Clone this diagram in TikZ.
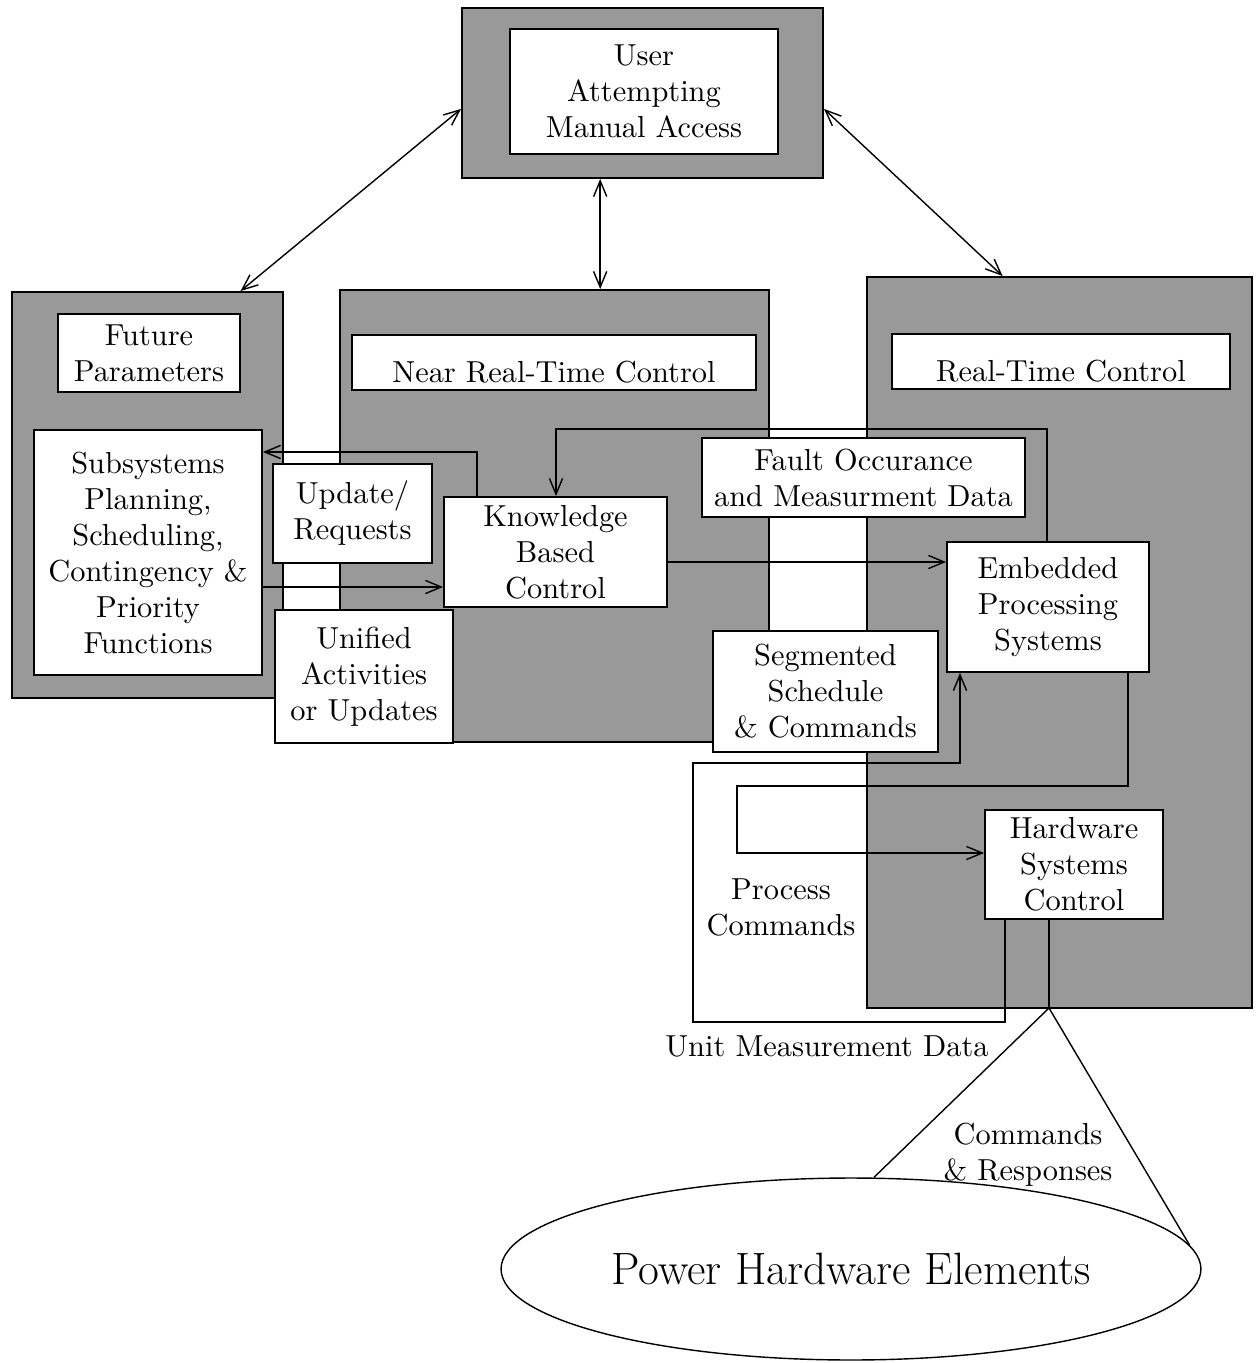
\documentclass[tikz,border=0pt]{standalone}
\usepackage{fontspec}
\setmainfont{lmroman10-regular}[Extension=.otf]
\newfontfamily\titlefam{lmroman17-regular}[Extension=.otf]
\usetikzlibrary{arrows.meta,shapes.geometric,calc}
\newcommand\boxfont{\fontsize{17.3}{20.5}\selectfont}
\newcommand\bigfont{\titlefam\fontsize{25.8}{30}\selectfont}
\begin{document}
\begin{tikzpicture}[x=0.02cm,y=-0.02cm,
  corners/.style n args={4}{at={({(#1+#3)/2},{(#2+#4)/2})},
    minimum width={(#3-#1)*0.02cm}, minimum height={(#4-#2)*0.02cm}},
  panel/.style={draw, line width=1.1pt, fill=black!40, inner sep=0pt},
  wbox/.style={draw, line width=1.1pt, fill=white, inner sep=0pt, align=center, font=\boxfont},
  lowtext/.style={text height=23pt, text depth=0pt},
  txt/.style={align=center, font=\boxfont},
  link/.style={line width=0.8pt},
  arr/.style={link, -{Straight Barb[length=9pt,width=7.5pt]}},
  dbl/.style={link, {Straight Barb[length=9pt,width=7.5pt]}-{Straight Barb[length=9pt,width=7.5pt]}},
]
\useasboundingbox (0,0) rectangle (1257,1363);

% shaded panels
\node[panel, corners={462}{8}{823}{178}] (userpanel) {};
\node[panel, corners={12}{292}{283}{698}] (futpanel) {};
\node[panel, corners={340}{290}{769}{742}] (nrtpanel) {};
\node[panel, corners={867}{277}{1252}{1008}] (rtpanel) {};

% labelled boxes
\node[wbox, corners={510}{29}{778}{154}] (user) {User\\Attempting\\Manual Access};
\node[wbox, corners={58}{314}{240}{392}] (futlabel) {Future\\Parameters};
\node[wbox, corners={34}{430}{262}{675}] (sub) {Subsystems\\Planning,\\Scheduling,\\Contingency \&\\Priority\\Functions};
\node[wbox, lowtext, corners={352}{335}{756}{390}] (nrtlabel) {Near Real-Time Control};
\node[wbox, lowtext, corners={892}{334}{1230}{389}] (rtlabel) {Real-Time Control};
\node[wbox, corners={273}{464}{432}{563}] (upd) {Update/\\Requests};
\node[wbox, corners={444}{497}{667}{607}] (kbc) {Knowledge\\Based\\Control};
\node[wbox, corners={275}{610}{453}{743}] (uni) {Unified\\Activities\\or Updates};
\node[wbox, corners={702}{438}{1025}{517}] (fault) {Fault Occurance\\and Measurment Data};
\node[wbox, corners={947}{542}{1149}{672}] (emb) {Embedded\\Processing\\Systems};
\node[wbox, corners={713}{631}{938}{752}] (seg) {Segmented\\Schedule\\\& Commands};
\node[wbox, corners={985}{810}{1163}{919}] (hw) {Hardware\\Systems\\Control};

% free labels
\node[txt] (pc) at (781,907) {Process\\Commands};
\node[txt] (umd) at (827,1046) {Unit Measurement Data};
\node[txt] (cr) at (1028,1155) {Commands\\\& Responses};
\node[draw, ellipse, line width=0.8pt, minimum width=14cm, minimum height=3.64cm,
      inner sep=0pt, font=\bigfont] (phe) at (851,1269) {Power Hardware Elements};

% links from the user
\coordinate (uf) at ($(futpanel.north west)!0.841!(futpanel.north east)$);
\coordinate (un) at ($(nrtpanel.north west)!0.606!(nrtpanel.north east)$);
\coordinate (ur) at ($(rtpanel.north west)!0.353!(rtpanel.north east)$);
\draw[dbl] (userpanel.185) -- (uf);
\draw[dbl] (userpanel.south -| un) -- (un);
\draw[dbl] (userpanel.355) -- (ur);

% planning <-> knowledge based control
\coordinate (c1) at (477,452);
\draw[arr] (c1 |- kbc.north) -- (c1) -- (c1 -| sub.east);
\coordinate (c2) at (300,587);
\draw[arr] (c2 -| sub.east) -- (c2 -| kbc.west);

% knowledge based control <-> embedded processing
\coordinate (c3a) at (1047,429);
\coordinate (c3b) at (556,429);
\draw[arr] (c3a |- emb.north) -- (c3a) -- (c3b) -- (c3b |- kbc.north);
\coordinate (c4) at (800,562);
\draw[arr] (c4 -| kbc.east) -- (c4 -| emb.west);

% hardware control -> embedded processing (unit measurement data)
\coordinate (c5a) at (1005,1022);
\coordinate (c5b) at (693,763);
\coordinate (c5c) at (960,763);
\draw[arr] (c5a |- hw.south) -- (c5a) -| (c5b) -- (c5c) -- (c5c |- emb.south);

% embedded processing -> hardware control (process commands)
\coordinate (c6a) at (1128,786);
\coordinate (c6b) at (737,853);
\draw[arr] (c6a |- emb.south) -- (c6a) -| (c6b) -- (c6b -| hw.west);

% hardware control -> power hardware
\coordinate (c7) at (1049,1008);
\draw[line width=1.3pt] (c7 |- hw.south) -- (c7);
\draw[link] (phe.76) -- (c7) -- (phe.4);
\end{tikzpicture}
\end{document}
